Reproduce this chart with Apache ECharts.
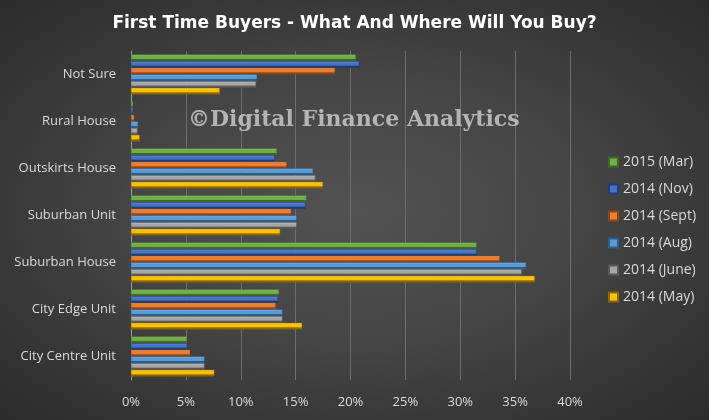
<!DOCTYPE html>
<html>
<head>
<meta charset="utf-8">
<script src="https://cdn.jsdelivr.net/npm/echarts@6/dist/echarts.min.js"></script>
<style>
html,body{margin:0;padding:0;}
body{background: radial-gradient(ellipse at 50% 50%, #525252 0%, #454545 45%, #2b2b2b 100%);}
#c{width:709px;height:420px;}
</style>
</head>
<body>
<div id="c"></div>
<script>
const categories = ["Not Sure","Rural House","Outskirts House","Suburban Unit","Suburban House","City Edge Unit","City Centre Unit"];
const seriesNames = ["2015 (Mar)","2014 (Nov)","2014 (Sept)","2014 (Aug)","2014 (June)","2014 (May)"];
const mar2015  = [20.5, 0.2, 13.3, 16.0, 31.5, 13.5, 5.1];
const nov2014  = [20.8, 0.2, 13.1, 15.9, 31.5, 13.4, 5.1];
const sept2014 = [18.6, 0.3, 14.2, 14.6, 33.6, 13.2, 5.4];
const aug2014  = [11.5, 0.65, 16.6, 15.1, 36.0, 13.8, 6.7];
const june2014 = [11.4, 0.6, 16.8, 15.1, 35.6, 13.8, 6.7];
const may2014  = [8.1, 0.8, 17.5, 13.6, 36.8, 15.6, 7.6];
const xTicks = [0,5,10,15,20,25,30,35,40];

const seriesData = [mar2015, nov2014, sept2014, aug2014, june2014, may2014];
const colors = [
  ['#a9d98c','#70ad47','#3f6a26'],
  ['#8aa8e0','#4472c4','#1f3d78'],
  ['#f6b488','#ed7d31','#8f4412'],
  ['#a3c8ec','#5b9bd5','#2a5f92'],
  ['#dcdcdc','#a5a5a5','#5a5a5a'],
  ['#ffe27a','#ffc000','#8a6800']
];
const chart = echarts.init(document.getElementById('c'), null, {renderer:'canvas'});
const grad = c => new echarts.graphic.LinearGradient(0,0,0,1,[
  {offset:0,color:c[0]},{offset:0.25,color:c[1]},{offset:0.6,color:c[1]},{offset:0.75,color:c[2]},{offset:1,color:c[2]}
]);
chart.setOption({
  backgroundColor:'transparent',
  animation:false,
  title:{text:'First Time Buyers - What And Where Will You Buy?', left:'center', top:10,
    textStyle:{color:'#ffffff', fontFamily:'DejaVu Sans', fontWeight:'bold', fontSize:17}},
  legend:{orient:'vertical', left:603, top:150, itemGap:13, itemWidth:9, itemHeight:9, icon:'rect',
    data: seriesNames.map((n,i)=>({name:n, itemStyle:{color:colors[i][1]}})),
    textStyle:{color:'#d9d9d9', fontFamily:'Open Sans', fontSize:14}},
  grid:{left:131, right:139, top:51, bottom:40, containLabel:false},
  xAxis:{type:'value', min:0, max:40, interval:5,
    axisLine:{show:false}, axisTick:{show:false},
    splitLine:{show:true, lineStyle:{color:'#6e6e6e', width:1}},
    axisLabel:{formatter: v => xTicks.includes(v) ? v+'%' : '', color:'#d9d9d9', fontFamily:'Open Sans', fontSize:13, margin:16}},
  yAxis:{type:'category', data:categories, inverse:true,
    axisLine:{show:true, lineStyle:{color:'#9a9a9a'}}, axisTick:{show:false},
    axisLabel:{color:'#d9d9d9', fontFamily:'Open Sans', fontSize:13, margin:15}},
  graphic:[{type:'text', left:188, top:109, z:100,
    style:{text:'©Digital Finance Analytics', fill:'rgba(200,200,200,0.85)', font:'bold 22px "DejaVu Serif"'}}],
  series: seriesNames.map((n,i)=>({
    name:n, type:'bar', data:seriesData[i], barGap:'0%', barCategoryGap:'15%',
    itemStyle:{color:grad(colors[i]), borderColor:colors[i][2], borderWidth:0.5},
    emphasis:{disabled:true}
  }))
});
</script>
</body>
</html>
